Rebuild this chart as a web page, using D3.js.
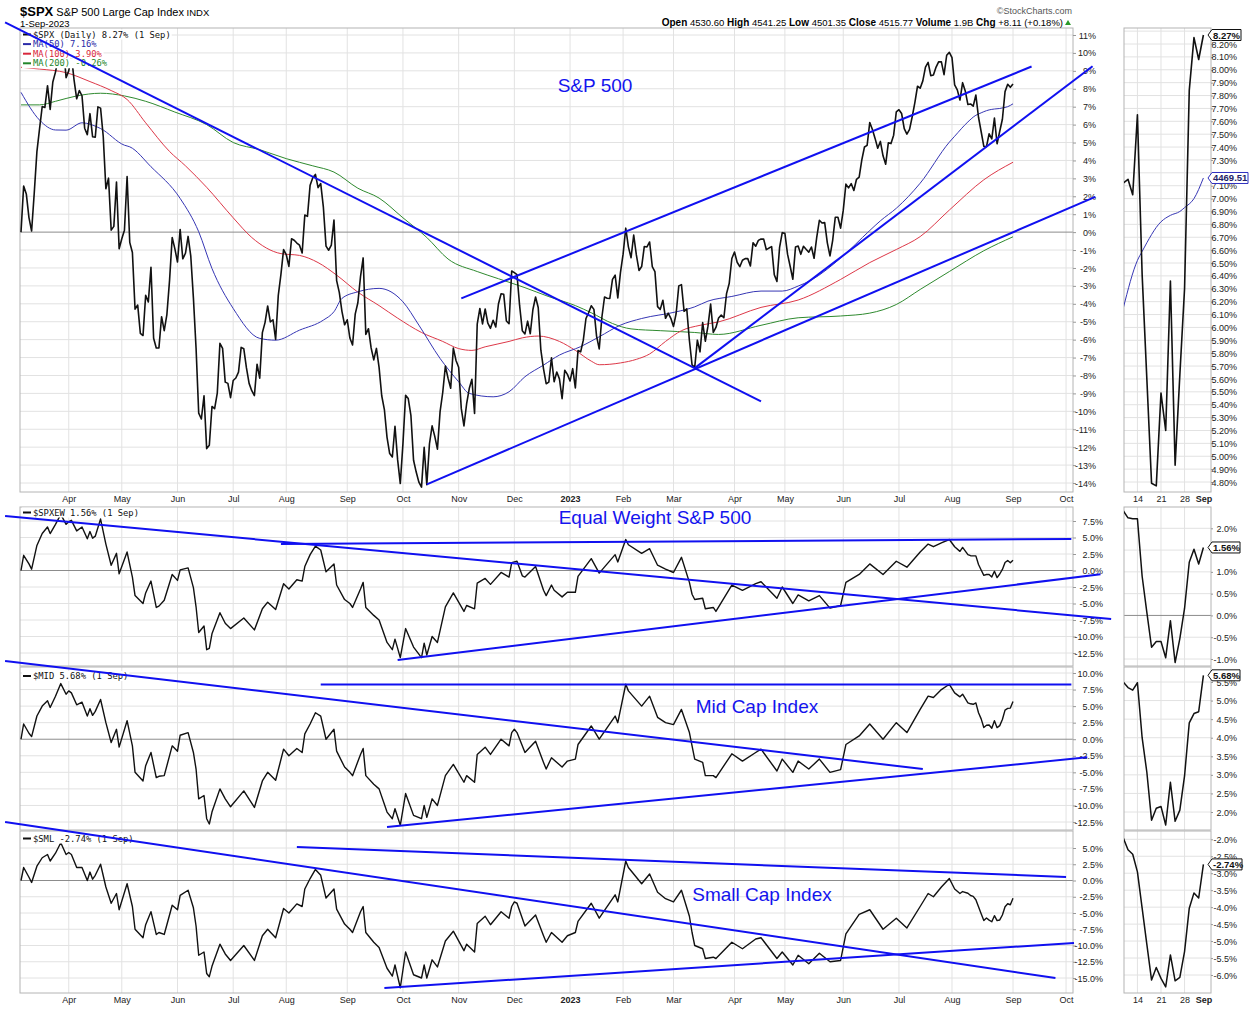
<!DOCTYPE html>
<html>
<head>
<meta charset="utf-8">
<script src="https://cdn.jsdelivr.net/npm/d3@7"></script>
<style>
  body { margin: 0; background: #fff; }
</style>
</head>
<body>
<svg id="chart" width="1251" height="1009" font-family="Liberation Sans, Arial, sans-serif"></svg>
<script>
// ---- data ----
var holidays = ["2022-04-15","2022-05-30","2022-06-20","2022-07-04","2022-09-05","2022-11-24","2022-12-26",
  "2023-01-02","2023-01-16","2023-02-20","2023-04-07","2023-05-29","2023-06-19","2023-07-04","2023-09-04"];

var months = ["2022-04","2022-05","2022-06","2022-07","2022-08","2022-09","2022-10","2022-11","2022-12",
  "2023-01","2023-02","2023-03","2023-04","2023-05","2023-06","2023-07","2023-08","2023-09","2023-10"];
var monthLabels = ["Apr","May","Jun","Jul","Aug","Sep","Oct","Nov","Dec","2023","Feb","Mar","Apr","May","Jun","Jul","Aug","Sep","Oct"];
var miniDays = ["2023-08-14","2023-08-21","2023-08-28","2023-09-01"];
var miniLabels = ["14","21","28","Sep"];

// $SPX % change since 8 Mar 2022, one value per trading day
var spxPct = [
  0.00,2.57,2.13,0.81,0.06,2.20,4.49,5.78,7.01,6.96,8.17,6.85,8.38,8.93,9.71,11.05,10.35,8.62,
  9.00,9.88,8.50,7.44,7.90,7.61,5.80,5.44,6.61,5.32,5.30,6.99,6.92,5.35,2.42,3.01,0.11,0.32,2.80,-0.93,
  -0.37,0.11,3.10,-0.57,-1.14,-4.30,-4.07,-5.65,-5.77,-3.52,-3.90,-1.96,-5.92,-6.47,-6.46,-4.72,-5.50,-4.60,-2.71,-0.30,-0.92,
  -1.67,0.15,-1.49,-1.18,-0.24,-1.32,-3.67,-6.47,-10.10,-10.43,-9.13,-12.08,-11.89,-9.73,-9.85,-8.99,-6.21,-6.49,-8.37,-8.44,-9.24,
  -8.28,-8.14,-7.81,-6.43,-6.51,-7.58,-8.44,-8.85,-9.12,-7.37,-8.15,-5.61,-5.05,-4.12,-5.01,-4.89,-5.99,-3.53,-2.36,-0.97,
  -1.25,-1.91,-0.37,-0.45,-0.61,-0.73,-1.16,0.95,0.88,2.62,3.03,3.22,2.48,2.71,1.39,-0.78,-1.01,-0.72,0.68,-2.71,-3.36,-4.42,-5.17,
  -4.89,-5.91,-6.30,-4.58,-3.94,-2.48,-1.44,-5.71,-5.39,-6.46,-7.13,-6.49,-7.55,-9.13,-9.90,-11.45,-12.36,-12.55,-10.83,-12.71,-14.03,
  -11.80,-9.11,-9.29,-10.22,-12.73,-13.39,-13.95,-14.23,-12.01,-14.09,-11.81,-10.81,-11.40,-12.11,-10.02,-8.95,-7.47,-8.15,-8.71,-6.47,-7.16,
  -7.54,-9.85,-10.81,-9.59,-8.73,-8.21,-10.12,-5.14,-4.26,-5.12,-4.29,-5.08,-5.37,-4.92,-5.29,-4.01,-3.44,-3.47,-4.96,-5.11,-2.17,
  -2.26,-2.37,-4.12,-5.50,-5.68,-4.97,-5.67,-4.32,-3.62,-4.21,-6.59,-7.63,-8.46,-8.37,-7.01,-8.35,-7.81,-8.19,-9.29,-7.71,-7.94,
  -8.31,-7.62,-8.69,-6.61,-6.68,-6.03,-4.82,-4.50,-4.11,-4.31,-5.80,-6.52,-4.75,-3.62,-3.69,-3.70,-2.64,-2.40,-3.67,-2.26,
  -1.23,0.22,-0.82,-1.43,-0.16,-1.27,-2.14,-1.92,-0.80,-0.83,-0.55,-1.92,-2.20,-4.16,-4.31,-3.80,-4.81,-4.52,-4.81,
  -5.26,-4.54,-3.00,-2.93,-4.42,-4.28,-6.05,-7.41,-7.55,-6.03,-6.68,-5.05,-6.09,-5.25,-4.02,-5.60,-5.32,-4.79,-4.63,-4.78,-3.43,-2.87,-1.47,
  -1.11,-1.68,-1.93,-1.57,-1.48,-1.48,-1.89,-0.59,-0.79,-0.46,-0.38,-0.39,-0.98,-0.89,-0.81,-2.38,-2.75,-0.85,-0.03,
  -0.07,-1.23,-1.92,-2.63,-0.83,-0.78,-1.24,-0.79,-0.96,-1.12,-0.83,-1.46,-0.29,0.66,0.51,0.53,-0.60,-1.33,-0.47,0.83,0.83,0.22,
  1.21,2.68,2.47,2.71,2.32,2.95,3.07,4.03,4.75,4.84,6.12,5.73,5.23,4.68,5.06,4.26,3.79,4.98,4.94,5.41,6.71,
  6.83,6.62,5.78,5.47,5.73,6.44,7.23,8.14,8.03,8.44,9.21,9.47,8.73,8.77,9.21,9.51,9.50,8.79,9.87,10.03,
  9.74,8.22,7.94,7.37,8.34,7.88,7.12,7.15,7.03,7.65,6.41,5.60,4.79,4.77,5.49,5.20,6.36,4.93,5.63,6.30,7.84,8.25,8.08,
  8.27
];

var ma50 = [["2022-03-08",7.8],["2022-03-17",6.25],["2022-03-25",5.7],["2022-03-31",5.69],["2022-04-08",6.1],["2022-04-20",5.78],
  ["2022-05-03",4.85],["2022-05-05",4.76],["2022-05-17",3.65],["2022-06-02",1.88],["2022-06-13",0.02],["2022-06-21",-2.03],
  ["2022-07-01",-4.26],["2022-07-18",-5.93],["2022-07-26",-6.03],["2022-08-08",-5.47],["2022-08-19",-4.91],["2022-08-25",-4.44],
  ["2022-08-30",-3.7],["2022-09-08",-3.33],["2022-09-20",-3.14],["2022-10-03",-3.89],["2022-10-11",-5.19],["2022-10-21",-7.05],
  ["2022-11-01",-8.35],["2022-11-07",-9.0],["2022-11-18",-9.19],["2022-11-29",-8.91],["2022-12-07",-8.07],["2022-12-16",-7.42],
  ["2022-12-27",-6.86],["2023-01-09",-6.39],["2023-01-19",-5.84],["2023-01-31",-5.19],["2023-02-10",-4.82],["2023-03-02",-4.45],
  ["2023-03-13",-4.17],["2023-03-20",-3.85],["2023-03-31",-3.59],["2023-04-18",-3.29],["2023-04-28",-3.29],["2023-05-08",-3.01],
  ["2023-05-15",-2.67],["2023-05-31",-1.45],["2023-06-15",0.09],["2023-06-22",0.63],["2023-06-30",1.33],["2023-07-14",2.73],
  ["2023-07-31",5.02],["2023-08-02",5.35],["2023-08-09",6.15],["2023-08-14",6.52],["2023-08-15",6.59],["2023-08-21",6.82],
  ["2023-08-23",6.87],["2023-08-25",6.9],["2023-08-28",6.93],["2023-08-30",7.0],["2023-09-01",7.16]];

var ma100 = [["2022-03-08",9.2],["2022-03-17",9.1],["2022-03-31",8.9],["2022-04-13",8.4],["2022-04-26",7.9],["2022-05-04",7.4],
  ["2022-05-13",6.1],["2022-05-26",4.5],["2022-06-06",3.7],["2022-06-16",2.5],["2022-07-01",0.8],["2022-07-13",-0.3],
  ["2022-07-28",-1.2],["2022-08-08",-1.3],["2022-08-17",-1.7],["2022-08-26",-2.4],["2022-09-08",-3.35],["2022-09-20",-4.1],
  ["2022-09-29",-4.8],["2022-10-12",-5.6],["2022-10-24",-6.1],["2022-11-01",-6.5],["2022-11-08",-6.6],["2022-11-15",-6.4],
  ["2022-11-29",-6.1],["2022-12-06",-5.9],["2022-12-14",-5.8],["2022-12-27",-6.1],["2023-01-05",-6.6],["2023-01-13",-7.2],
  ["2023-01-19",-7.4],["2023-01-31",-7.3],["2023-02-08",-7.1],["2023-02-15",-6.8],["2023-02-24",-6.1],["2023-03-06",-5.5],
  ["2023-03-15",-5.2],["2023-03-24",-5.01],["2023-04-18",-4.2],["2023-05-08",-3.79],["2023-05-31",-2.64],["2023-06-15",-1.7],
  ["2023-06-30",-0.97],["2023-07-14",-0.25],["2023-07-31",1.23],["2023-08-17",2.92],["2023-09-01",3.9]];

var ma200 = [["2022-03-08",7.1],["2022-03-17",7.1],["2022-03-25",7.3],["2022-04-06",7.6],["2022-04-20",7.75],["2022-05-03",7.6],
  ["2022-05-13",7.3],["2022-05-31",6.7],["2022-06-16",6.0],["2022-07-01",5.0],["2022-07-18",4.6],["2022-08-01",4.1],
  ["2022-08-15",3.7],["2022-08-25",3.35],["2022-09-08",2.45],["2022-09-20",1.9],["2022-10-03",0.8],["2022-10-14",-0.3],
  ["2022-10-26",-1.5],["2022-11-10",-2.2],["2022-11-22",-2.6],["2022-12-07",-3.1],["2022-12-20",-3.6],["2023-01-05",-4.1],
  ["2023-01-13",-4.5],["2023-01-26",-5.1],["2023-02-06",-5.4],["2023-02-22",-5.5],["2023-03-13",-5.6],["2023-03-24",-5.71],
  ["2023-04-18",-5.2],["2023-05-08",-4.78],["2023-05-31",-4.68],["2023-06-15",-4.52],["2023-06-30",-4.04],["2023-07-14",-3.2],
  ["2023-07-31",-2.2],["2023-08-17",-1.04],["2023-09-01",-0.26]];

var ewPts = [["2022-03-08",0],["2022-03-09",2.3],["2022-03-11",1.0],["2022-03-14",0.2],["2022-03-16",3.8],["2022-03-18",5.6],
  ["2022-03-22",6.6],["2022-03-23",5.6],["2022-03-25",7.0],["2022-03-29",8.5],["2022-03-31",7.0],["2022-04-01",7.4],
  ["2022-04-04",7.6],["2022-04-06",6.0],["2022-04-08",6.6],["2022-04-12",4.8],["2022-04-13",5.9],["2022-04-14",4.9],
  ["2022-04-18",5.2],["2022-04-20",7.8],["2022-04-22",4.0],["2022-04-26",0.8],["2022-04-28",2.6],["2022-04-29",-0.5],
  ["2022-05-04",2.8],["2022-05-06",-1.0],["2022-05-09",-3.8],["2022-05-12",-5.0],["2022-05-13",-3.4],["2022-05-17",-1.6],
  ["2022-05-19",-5.6],["2022-05-20",-5.4],["2022-05-24",-4.5],["2022-05-27",-0.6],["2022-06-01",-1.5],["2022-06-02",0.1],
  ["2022-06-07",0.4],["2022-06-09",-2.6],["2022-06-10",-5.5],["2022-06-13",-9.4],["2022-06-15",-8.4],["2022-06-16",-12.0],
  ["2022-06-17",-11.8],["2022-06-21",-9.6],["2022-06-24",-6.4],["2022-06-28",-8.0],["2022-06-30",-8.8],["2022-07-08",-7.2],
  ["2022-07-14",-9.0],["2022-07-19",-5.8],["2022-07-21",-4.8],["2022-07-26",-5.9],["2022-07-29",-2.0],["2022-08-02",-2.8],
  ["2022-08-05",-1.4],["2022-08-09",-1.6],["2022-08-10",0.6],["2022-08-12",2.4],["2022-08-16",3.7],["2022-08-18",3.1],
  ["2022-08-22",-0.2],["2022-08-25",1.0],["2022-08-26",-2.2],["2022-08-31",-4.4],["2022-09-02",-5.0],["2022-09-06",-5.6],
  ["2022-09-09",-2.8],["2022-09-12",-1.8],["2022-09-13",-5.6],["2022-09-16",-6.8],["2022-09-20",-7.5],["2022-09-23",-10.9],
  ["2022-09-27",-12.0],["2022-09-28",-10.4],["2022-09-30",-13.2],["2022-10-04",-8.8],["2022-10-07",-11.6],["2022-10-12",-13.2],
  ["2022-10-13",-11.0],["2022-10-14",-12.8],["2022-10-18",-10.0],["2022-10-20",-10.9],["2022-10-25",-5.5],["2022-10-28",-3.4],
  ["2022-11-03",-6.2],["2022-11-04",-5.3],["2022-11-09",-5.8],["2022-11-10",-1.9],["2022-11-15",-1.2],["2022-11-17",-2.1],
  ["2022-11-23",-0.3],["2022-11-29",-1.0],["2022-11-30",1.2],["2022-12-01",1.3],["2022-12-02",1.4],["2022-12-06",-0.8],
  ["2022-12-07",-1.0],["2022-12-13",0.6],["2022-12-16",-3.0],["2022-12-19",-3.8],["2022-12-21",-2.2],["2022-12-22",-3.0],
  ["2022-12-28",-4.0],["2022-12-30",-3.3],["2023-01-05",-3.3],["2023-01-06",-0.9],["2023-01-13",1.8],["2023-01-19",-0.4],
  ["2023-01-27",2.4],["2023-01-30",1.3],["2023-02-02",4.7],["2023-02-03",3.9],["2023-02-10",2.6],["2023-02-15",3.3],
  ["2023-02-21",0.8],["2023-02-24",0.2],["2023-03-01",-0.3],["2023-03-06",2.0],["2023-03-09",-1.8],["2023-03-10",-3.6],
  ["2023-03-13",-4.4],["2023-03-16",-4.2],["2023-03-17",-5.8],["2023-03-22",-5.6],["2023-03-23",-6.2],["2023-03-31",-2.2],
  ["2023-04-06",-3.0],["2023-04-14",-2.0],["2023-04-18",-1.7],["2023-04-26",-4.2],["2023-04-28",-2.5],["2023-05-04",-5.0],
  ["2023-05-08",-3.7],["2023-05-12",-4.6],["2023-05-18",-3.8],["2023-05-24",-5.7],["2023-05-31",-5.3],["2023-06-02",-1.8],
  ["2023-06-09",-0.6],["2023-06-15",1.0],["2023-06-23",-0.6],["2023-06-30",1.4],["2023-07-07",0.5],["2023-07-14",2.8],
  ["2023-07-19",4.0],["2023-07-21",3.6],["2023-07-26",4.2],["2023-07-31",4.7],["2023-08-02",3.6],["2023-08-04",2.9],
  ["2023-08-07",3.5],["2023-08-09",2.4],["2023-08-10",2.24],["2023-08-11",2.22],["2023-08-14",2.22],["2023-08-15",0.9],
  ["2023-08-16",0.07],["2023-08-17",-0.73],["2023-08-18",-0.6],["2023-08-21",-0.6],["2023-08-22",-0.97],["2023-08-23",-0.12],
  ["2023-08-24",-1.08],["2023-08-25",-0.53],["2023-08-28",0.16],["2023-08-29",1.22],["2023-08-30",1.52],["2023-08-31",1.18],
  ["2023-09-01",1.56]];

var midPts = [["2022-03-08",0],["2022-03-09",2.3],["2022-03-11",0.9],["2022-03-14",0.4],["2022-03-16",3.5],["2022-03-18",5.0],
  ["2022-03-22",5.8],["2022-03-23",4.8],["2022-03-25",6.5],["2022-03-29",8.4],["2022-03-31",6.8],["2022-04-01",7.3],
  ["2022-04-04",7.0],["2022-04-06",5.2],["2022-04-08",5.6],["2022-04-12",3.5],["2022-04-13",4.6],["2022-04-14",3.6],
  ["2022-04-18",4.2],["2022-04-20",6.0],["2022-04-22",2.5],["2022-04-26",-0.5],["2022-04-28",1.5],["2022-04-29",-1.2],
  ["2022-05-04",2.8],["2022-05-06",-1.0],["2022-05-09",-5.0],["2022-05-12",-6.3],["2022-05-13",-4.0],["2022-05-17",-2.0],
  ["2022-05-19",-5.8],["2022-05-20",-5.6],["2022-05-24",-5.5],["2022-05-27",-1.0],["2022-06-01",-1.8],["2022-06-02",0.6],
  ["2022-06-07",1.0],["2022-06-09",-2.0],["2022-06-10",-4.5],["2022-06-13",-9.0],["2022-06-15",-8.5],["2022-06-16",-12.0],
  ["2022-06-17",-12.8],["2022-06-21",-11.0],["2022-06-24",-7.5],["2022-06-28",-9.0],["2022-06-30",-10.2],["2022-07-08",-7.8],
  ["2022-07-14",-10.3],["2022-07-19",-6.3],["2022-07-21",-5.0],["2022-07-26",-6.2],["2022-07-29",-1.5],["2022-08-02",-2.5],
  ["2022-08-05",-1.4],["2022-08-09",-2.0],["2022-08-10",0.8],["2022-08-12",2.3],["2022-08-16",4.0],["2022-08-18",3.5],
  ["2022-08-22",0.0],["2022-08-25",1.5],["2022-08-26",-1.8],["2022-08-31",-4.2],["2022-09-02",-5.0],["2022-09-06",-5.5],
  ["2022-09-09",-2.3],["2022-09-12",-1.4],["2022-09-13",-5.5],["2022-09-16",-6.8],["2022-09-20",-7.5],["2022-09-23",-11.0],
  ["2022-09-27",-12.0],["2022-09-28",-10.5],["2022-09-30",-13.0],["2022-10-04",-8.2],["2022-10-07",-11.5],["2022-10-12",-12.0],
  ["2022-10-13",-10.0],["2022-10-14",-11.8],["2022-10-18",-9.0],["2022-10-20",-10.0],["2022-10-25",-5.5],["2022-10-28",-3.8],
  ["2022-11-03",-6.5],["2022-11-04",-5.5],["2022-11-09",-6.5],["2022-11-10",-2.3],["2022-11-15",-1.2],["2022-11-17",-2.3],
  ["2022-11-23",0.0],["2022-11-29",-1.0],["2022-11-30",1.0],["2022-12-01",1.5],["2022-12-02",1.0],["2022-12-07",-2.0],
  ["2022-12-13",-0.3],["2022-12-16",-3.5],["2022-12-19",-4.5],["2022-12-21",-2.8],["2022-12-28",-4.2],["2022-12-30",-3.3],
  ["2023-01-05",-3.0],["2023-01-06",-0.8],["2023-01-13",2.0],["2023-01-19",0.0],["2023-01-27",3.5],["2023-01-30",2.5],
  ["2023-02-02",8.3],["2023-02-03",7.3],["2023-02-10",5.0],["2023-02-15",6.5],["2023-02-21",3.3],["2023-02-24",2.5],
  ["2023-03-01",2.2],["2023-03-06",4.5],["2023-03-09",1.0],["2023-03-10",-1.0],["2023-03-13",-3.0],["2023-03-16",-3.5],
  ["2023-03-17",-5.5],["2023-03-22",-5.5],["2023-03-23",-5.8],["2023-03-31",-2.2],["2023-04-06",-3.3],["2023-04-14",-2.0],
  ["2023-04-18",-1.5],["2023-04-26",-4.8],["2023-04-28",-3.0],["2023-05-04",-5.0],["2023-05-08",-3.3],["2023-05-12",-4.5],
  ["2023-05-18",-3.0],["2023-05-24",-5.0],["2023-05-31",-4.6],["2023-06-02",-0.8],["2023-06-09",0.5],["2023-06-15",2.3],
  ["2023-06-23",0.0],["2023-06-30",2.5],["2023-07-07",1.0],["2023-07-14",4.5],["2023-07-19",6.5],["2023-07-21",6.3],
  ["2023-07-26",7.5],["2023-07-31",8.3],["2023-08-02",7.0],["2023-08-04",6.4],["2023-08-07",6.8],["2023-08-09",5.5],
  ["2023-08-10",5.35],["2023-08-11",5.28],["2023-08-14",5.48],["2023-08-15",4.0],["2023-08-16",3.07],["2023-08-17",1.78],
  ["2023-08-18",2.1],["2023-08-21",2.15],["2023-08-22",1.65],["2023-08-23",2.8],["2023-08-24",1.75],["2023-08-25",2.05],
  ["2023-08-28",2.97],["2023-08-29",4.4],["2023-08-30",4.65],["2023-08-31",4.7],["2023-09-01",5.68]];

var smlPts = [["2022-03-08",0],["2022-03-09",2.0],["2022-03-11",0.5],["2022-03-14",-0.3],["2022-03-16",2.2],["2022-03-18",3.5],
  ["2022-03-22",4.0],["2022-03-23",3.0],["2022-03-25",4.2],["2022-03-29",5.8],["2022-03-31",4.0],["2022-04-01",4.3],
  ["2022-04-04",4.0],["2022-04-06",2.0],["2022-04-08",2.0],["2022-04-12",0.0],["2022-04-13",1.3],["2022-04-14",0.2],
  ["2022-04-18",0.8],["2022-04-20",2.5],["2022-04-22",-1.0],["2022-04-26",-3.5],["2022-04-28",-2.0],["2022-04-29",-4.5],
  ["2022-05-04",-0.5],["2022-05-06",-4.0],["2022-05-09",-7.5],["2022-05-12",-8.8],["2022-05-13",-6.8],["2022-05-17",-4.8],
  ["2022-05-19",-8.3],["2022-05-20",-8.0],["2022-05-24",-8.3],["2022-05-27",-3.8],["2022-06-01",-4.5],["2022-06-02",-2.3],
  ["2022-06-07",-1.5],["2022-06-09",-4.2],["2022-06-10",-7.0],["2022-06-13",-11.5],["2022-06-15",-11.0],["2022-06-16",-14.3],
  ["2022-06-17",-14.8],["2022-06-21",-13.2],["2022-06-24",-9.8],["2022-06-28",-11.3],["2022-06-30",-12.3],["2022-07-08",-10.0],
  ["2022-07-14",-12.3],["2022-07-19",-8.5],["2022-07-21",-7.5],["2022-07-26",-8.8],["2022-07-29",-4.3],["2022-08-02",-5.0],
  ["2022-08-05",-3.6],["2022-08-09",-4.0],["2022-08-10",-1.3],["2022-08-12",0.3],["2022-08-16",1.7],["2022-08-18",0.8],
  ["2022-08-22",-2.7],["2022-08-25",-1.3],["2022-08-26",-4.4],["2022-08-31",-6.7],["2022-09-02",-7.5],["2022-09-06",-8.0],
  ["2022-09-09",-4.8],["2022-09-12",-4.0],["2022-09-13",-8.0],["2022-09-16",-9.5],["2022-09-20",-10.3],["2022-09-23",-13.5],
  ["2022-09-27",-14.7],["2022-09-28",-13.0],["2022-09-30",-16.5],["2022-10-04",-11.0],["2022-10-07",-14.5],["2022-10-12",-15.0],
  ["2022-10-13",-13.0],["2022-10-14",-15.0],["2022-10-18",-12.2],["2022-10-20",-13.3],["2022-10-25",-9.3],["2022-10-28",-7.8],
  ["2022-11-03",-10.8],["2022-11-04",-9.8],["2022-11-09",-11.0],["2022-11-10",-6.6],["2022-11-15",-5.5],["2022-11-17",-6.8],
  ["2022-11-23",-4.8],["2022-11-29",-5.8],["2022-11-30",-4.0],["2022-12-01",-3.3],["2022-12-02",-3.5],["2022-12-07",-7.0],
  ["2022-12-13",-5.3],["2022-12-16",-8.5],["2022-12-19",-9.5],["2022-12-21",-8.0],["2022-12-28",-9.5],["2022-12-30",-8.5],
  ["2023-01-05",-8.0],["2023-01-06",-6.3],["2023-01-13",-3.5],["2023-01-19",-5.8],["2023-01-27",-2.2],["2023-01-30",-3.3],
  ["2023-02-02",3.0],["2023-02-03",2.0],["2023-02-10",-0.5],["2023-02-15",1.0],["2023-02-21",-1.8],["2023-02-24",-2.8],
  ["2023-03-01",-3.3],["2023-03-06",-1.5],["2023-03-09",-5.5],["2023-03-10",-8.0],["2023-03-13",-10.0],["2023-03-16",-10.5],
  ["2023-03-17",-12.0],["2023-03-22",-11.8],["2023-03-23",-12.0],["2023-03-31",-9.5],["2023-04-06",-10.5],["2023-04-14",-9.0],
  ["2023-04-18",-8.8],["2023-04-26",-12.0],["2023-04-28",-11.0],["2023-05-04",-13.0],["2023-05-08",-11.5],["2023-05-12",-12.8],
  ["2023-05-18",-11.2],["2023-05-24",-12.5],["2023-05-31",-12.3],["2023-06-02",-8.2],["2023-06-09",-5.2],["2023-06-15",-4.5],
  ["2023-06-23",-7.5],["2023-06-30",-5.8],["2023-07-07",-7.3],["2023-07-14",-4.0],["2023-07-19",-2.0],["2023-07-21",-2.5],
  ["2023-07-26",-1.0],["2023-07-31",0.3],["2023-08-02",-1.3],["2023-08-04",-2.0],["2023-08-07",-1.7],["2023-08-09",-1.96],
  ["2023-08-10",-2.31],["2023-08-11",-2.44],["2023-08-14",-2.96],["2023-08-15",-4.03],["2023-08-16",-5.1],["2023-08-17",-6.15],
  ["2023-08-18",-5.78],["2023-08-21",-6.1],["2023-08-22",-6.35],["2023-08-23",-5.41],["2023-08-24",-6.17],["2023-08-25",-6.07],
  ["2023-08-28",-5.31],["2023-08-29",-4.03],["2023-08-30",-3.58],["2023-08-31",-3.73],["2023-09-01",-2.74]];

// trend lines: [start date, start %, end date, end %]
var spxTrends = [["2022-02-28",11.7,"2023-04-18",-9.45],["2022-11-02",-3.70,"2023-09-13",9.24],
  ["2022-10-14",-14.08,"2023-10-17",1.97],["2023-03-13",-7.59,"2023-10-16",9.26]];
var ewTrends = [["2022-02-28",8.26,"2023-10-25",-7.35],["2022-07-28",4.02,"2023-10-04",4.77],["2022-09-29",-13.56,"2023-10-19",-0.58]];
var midTrends = [["2022-02-28",11.81,"2023-07-17",-4.5],["2022-08-18",8.25,"2023-10-04",8.25],["2022-09-23",-13.26,"2023-10-12",-2.73]];
var smlTrends = [["2022-02-28",9.0,"2023-09-26",-15.0],["2022-08-05",5.15,"2023-10-02",0.54],["2022-09-22",-16.54,"2023-10-05",-9.6]];

var spxTicks = [-14,-13,-12,-11,-10,-9,-8,-7,-6,-5,-4,-3,-2,-1,0,1,2,3,4,5,6,7,8,9,10,11];
var ewTicks = [-12.5,-10,-7.5,-5,-2.5,0,2.5,5,7.5];
var midTicks = [-12.5,-10,-7.5,-5,-2.5,0,2.5,5,7.5,10];
var smlTicks = [-15,-12.5,-10,-7.5,-5,-2.5,0,2.5,5];
var spxMiniTicks = [4.8,4.9,5.0,5.1,5.2,5.3,5.4,5.5,5.6,5.7,5.8,5.9,6.0,6.1,6.2,6.3,6.4,6.5,6.6,6.7,6.8,6.9,7.0,7.1,7.2,7.3,7.4,7.5,7.6,7.7,7.8,7.9,8.0,8.1,8.2,8.3];
var ewMiniTicks = [-1,-0.5,0,0.5,1,1.5,2];
var midMiniTicks = [2,2.5,3,3.5,4,4.5,5,5.5];
var smlMiniTicks = [-6,-5.5,-5,-4.5,-4,-3.5,-3,-2.5,-2];
// mini tick labels that sit completely under a value tag in the picture
var hiddenMini = [[8.3, 7.2], [1.5], [], []];

// ---- trading calendar ----
var hol = new Set(holidays), cal = [];
var day = new Date(Date.UTC(2022, 1, 28));
while (day <= new Date(Date.UTC(2023, 9, 31))) {
  var wd = day.getUTCDay(), s = day.toISOString().slice(0, 10);
  if (wd > 0 && wd < 6 && !hol.has(s)) cal.push(s);
  day.setUTCDate(day.getUTCDate() + 1);
}
var base = cal.indexOf("2022-03-08");
function tIdx(s) { return d3.bisectLeft(cal, s) - base; }

// ---- layout ----
var svg = d3.select("#chart");
var L = 20, R = 1073, ML = 1124, MR = 1211;
var x = d3.scaleLinear().domain([0, 374]).range([21, 1013]);
var xm = d3.scaleLinear().domain([358, 374]).range([1128, 1203.4]);
var monthIdx = months.map(tIdx);
var miniIdx = miniDays.map(tIdx);
var font = "Liberation Sans, Arial, sans-serif";
var mono = "DejaVu Sans Mono, monospace";
var trendColor = "#1010f0";

var panels = [
  {id: "p0", top: 28, bottom: 492, y: d3.scaleLinear().domain([-14, 11]).range([483, 35]), ticks: spxTicks,
   fmt: d => d + "%", labX: 1096, ym: d3.scaleLinear().domain([4.8, 8.27]).range([482, 35]), mticks: spxMiniTicks,
   mfmt: d => d.toFixed(2) + "%", trends: spxTrends},
  {id: "p1", top: 507, bottom: 666, y: d3.scaleLinear().domain([-12.5, 7.5]).range([653, 521]), ticks: ewTicks,
   fmt: d => d.toFixed(1) + "%", labX: 1103, ym: d3.scaleLinear().domain([-1, 2]).range([659, 528.3]), mticks: ewMiniTicks,
   mfmt: d => d.toFixed(1) + "%", trends: ewTrends, pts: ewPts},
  {id: "p2", top: 667, bottom: 830, y: d3.scaleLinear().domain([-12.5, 10]).range([822, 673]), ticks: midTicks,
   fmt: d => d.toFixed(1) + "%", labX: 1103, ym: d3.scaleLinear().domain([2, 5.5]).range([812, 682]), mticks: midMiniTicks,
   mfmt: d => d.toFixed(1) + "%", trends: midTrends, pts: midPts},
  {id: "p3", top: 831, bottom: 993, y: d3.scaleLinear().domain([-15, 5]).range([978, 848]), ticks: smlTicks,
   fmt: d => d.toFixed(1) + "%", labX: 1103, ym: d3.scaleLinear().domain([-6, -2]).range([975, 839.3]), mticks: smlMiniTicks,
   mfmt: d => d.toFixed(1) + "%", trends: smlTrends, pts: smlPts}
];

var defs = svg.append("defs");

panels.forEach(function(p, pi) {
  defs.append("clipPath").attr("id", "c" + p.id).append("rect")
    .attr("x", L).attr("y", p.top).attr("width", R - L).attr("height", p.bottom - p.top);
  defs.append("clipPath").attr("id", "m" + p.id).append("rect")
    .attr("x", ML).attr("y", p.top).attr("width", MR - ML).attr("height", p.bottom - p.top);

  var g = svg.append("g");
  // main grid
  g.selectAll(null).data(monthIdx.filter(d => x(d) < R)).join("line")
    .attr("x1", d => x(d)).attr("x2", d => x(d)).attr("y1", p.top).attr("y2", p.bottom)
    .attr("stroke", "#e2e2e2");
  g.selectAll(null).data(p.ticks).join("line")
    .attr("x1", L).attr("x2", R).attr("y1", d => p.y(d)).attr("y2", d => p.y(d))
    .attr("stroke", d => d === 0 ? "#8c8c8c" : "#e2e2e2");
  g.append("rect").attr("x", L).attr("y", p.top).attr("width", R - L).attr("height", p.bottom - p.top)
    .attr("fill", "none").attr("stroke", "#b4b4b4");

  // mini grid
  g.selectAll(null).data(miniIdx.slice(0, 3)).join("line")
    .attr("x1", d => xm(d)).attr("x2", d => xm(d)).attr("y1", p.top).attr("y2", p.bottom)
    .attr("stroke", "#e2e2e2");
  g.selectAll(null).data(p.mticks).join("line")
    .attr("x1", ML).attr("x2", MR).attr("y1", d => p.ym(d)).attr("y2", d => p.ym(d))
    .attr("stroke", d => d === 0 ? "#8c8c8c" : "#e2e2e2");
  g.append("rect").attr("x", ML).attr("y", p.top).attr("width", MR - ML).attr("height", p.bottom - p.top)
    .attr("fill", "none").attr("stroke", "#b4b4b4");

  // right axes
  var ax = svg.append("g").attr("transform", "translate(" + R + ",0)")
    .call(d3.axisRight(p.y).tickValues(p.ticks).tickFormat(p.fmt).tickSize(3));
  ax.select(".domain").remove();
  ax.selectAll("line").attr("stroke", "#999");
  ax.selectAll("text").attr("text-anchor", "end").attr("x", p.labX - R).attr("dy", "0.34em")
    .attr("font-family", font).attr("font-size", 9).attr("fill", "#222");

  var hide = hiddenMini[pi];
  var axm = svg.append("g").attr("transform", "translate(" + MR + ",0)")
    .call(d3.axisRight(p.ym).tickValues(p.mticks)
      .tickFormat(d => hide.indexOf(d) >= 0 ? "" : p.mfmt(d)).tickSize(2));
  axm.select(".domain").remove();
  axm.selectAll("line").attr("stroke", "#999");
  axm.selectAll("text").attr("text-anchor", "end").attr("x", 1237 - MR).attr("dy", "0.34em")
    .attr("font-family", font).attr("font-size", 9).attr("fill", "#222");
});

// x axes (under main panel and at bottom)
[492, 993].forEach(function(ay) {
  var ax = svg.append("g").attr("transform", "translate(0," + ay + ")")
    .call(d3.axisBottom(x).tickValues(monthIdx).tickFormat((d, i) => monthLabels[i]).tickSize(0).tickPadding(4));
  ax.select(".domain").remove();
  ax.selectAll("text").attr("font-family", font).attr("font-size", 9).attr("fill", "#222")
    .attr("font-weight", (d, i) => monthLabels[i] === "2023" ? "bold" : "normal");
  var axm = svg.append("g").attr("transform", "translate(0," + ay + ")")
    .call(d3.axisBottom(xm).tickValues(miniIdx).tickFormat((d, i) => miniLabels[i]).tickSize(0).tickPadding(4));
  axm.select(".domain").remove();
  axm.selectAll("text").attr("font-family", font).attr("font-size", 9).attr("fill", "#222")
    .attr("font-weight", (d, i) => miniLabels[i] === "Sep" ? "bold" : "normal");
});

// ---- series ----
function pairs(list) { return list.map(d => [tIdx(d[0]), d[1]]); }
var spxData = spxPct.map((v, i) => [i, v]);

function drawLine(data, xs, ys, clip, color, width, curve) {
  svg.append("path").datum(data)
    .attr("clip-path", "url(#" + clip + ")")
    .attr("fill", "none").attr("stroke", color).attr("stroke-width", width)
    .attr("stroke-linejoin", "round")
    .attr("d", d3.line().x(d => xs(d[0])).y(d => ys(d[1])).curve(curve || d3.curveLinear));
}

var p0 = panels[0];
var maSets = [[ma200, "#2f8a2f"], [ma100, "#dd3848"], [ma50, "#3636b4"]];
maSets.forEach(function(m) {
  drawLine(pairs(m[0]), x, p0.y, "cp0", m[1], 1, d3.curveMonotoneX);
});
drawLine(spxData, x, p0.y, "cp0", "#111", 1.6);
drawLine(pairs(ma50).filter(d => d[0] >= 356), xm, p0.ym, "mp0", "#3636b4", 1, d3.curveMonotoneX);
drawLine(spxData.filter(d => d[0] >= 356), xm, p0.ym, "mp0", "#111", 1.6);

panels.slice(1).forEach(function(p) {
  var data = pairs(p.pts);
  drawLine(data, x, p.y, "c" + p.id, "#111", 1.4);
  drawLine(data.filter(d => d[0] >= 356), xm, p.ym, "m" + p.id, "#111", 1.5);
});

// ---- legends ----
function legend(items, y0) {
  items.forEach(function(it, i) {
    var yy = y0 + i * 9.6;
    var t = svg.append("text").attr("x", 33).attr("y", yy).text(it[0])
      .attr("font-family", mono).attr("font-size", 8.8).attr("fill", it[1]);
    var bb = t.node().getBBox();
    svg.insert("rect", function() { return t.node(); })
      .attr("x", 22).attr("y", bb.y).attr("width", bb.x + bb.width - 22 + 1).attr("height", bb.height)
      .attr("fill", "#fff");
    svg.append("line").attr("x1", 23).attr("x2", 31).attr("y1", yy - 3).attr("y2", yy - 3)
      .attr("stroke", it[1]).attr("stroke-width", 2);
  });
}
legend([["$SPX (Daily) 8.27% (1 Sep)", "#111"], ["MA(50) 7.16%", "#2a2aa8"], ["MA(100) 3.90%", "#d8283c"], ["MA(200) -0.26%", "#23862a"]], 37.5);
legend([["$SPXEW 1.56% (1 Sep)", "#111"]], 515.5);
legend([["$MID 5.68% (1 Sep)", "#111"]], 679);
legend([["$SML -2.74% (1 Sep)", "#111"]], 841.5);

// ---- trend lines ----
panels.forEach(function(p) {
  svg.append("g").selectAll("line").data(p.trends).join("line")
    .attr("x1", d => x(tIdx(d[0]))).attr("y1", d => p.y(d[1]))
    .attr("x2", d => x(tIdx(d[2]))).attr("y2", d => p.y(d[3]))
    .attr("stroke", trendColor).attr("stroke-width", 2);
});

// ---- annotations ----
var notes = [["S&P 500", 595, 92], ["Equal Weight S&P 500", 655, 524], ["Mid Cap Index", 757, 713], ["Small Cap Index", 762, 901]];
svg.selectAll(".note").data(notes).join("text").attr("class", "note")
  .attr("x", d => d[1]).attr("y", d => d[2]).attr("text-anchor", "middle")
  .attr("font-family", font).attr("font-size", 19).attr("fill", "#1414ee").text(d => d[0]);

// ---- value tags on mini panels ----
function tag(yc, text, color, w) {
  var x0 = 1208;
  svg.append("path")
    .attr("d", "M" + x0 + "," + yc + "L" + (x0 + 4) + "," + (yc - 5.5) + "L" + (x0 + w) + "," + (yc - 5.5) +
      "L" + (x0 + w) + "," + (yc + 5.5) + "L" + (x0 + 4) + "," + (yc + 5.5) + "Z")
    .attr("fill", "#fff").attr("stroke", color).attr("stroke-width", 1);
  svg.append("text").attr("x", x0 + 5).attr("y", yc + 3.5).text(text)
    .attr("font-family", font).attr("font-size", 9.5).attr("font-weight", "bold").attr("fill", color === "#111" ? "#111" : "#222266");
}
tag(p0.ym(8.27), "8.27%", "#111", 33);
tag(p0.ym(7.16), "4469.51", "#3030c0", 40);
tag(panels[1].ym(1.56), "1.56%", "#111", 32);
tag(panels[2].ym(5.68), "5.68%", "#111", 32);
tag(panels[3].ym(-2.74), "-2.74%", "#111", 34);

// ---- header ----
var h = svg.append("text").attr("x", 20).attr("y", 15.5).attr("font-family", font);
h.append("tspan").text("$SPX").attr("font-weight", "bold").attr("font-size", 13);
h.append("tspan").text(" S&P 500 Large Cap Index").attr("font-size", 11);
h.append("tspan").text("  INDX").attr("font-size", 9.5);
svg.append("text").attr("x", 20).attr("y", 26.5).text("1-Sep-2023").attr("font-family", font).attr("font-size", 9.5);
svg.append("text").attr("x", 1072).attr("y", 14).attr("text-anchor", "end").text("\u00a9StockCharts.com")
  .attr("font-family", font).attr("font-size", 9).attr("fill", "#555");

var quote = [["Open", "4530.60"], ["High", "4541.25"], ["Low", "4501.35"], ["Close", "4515.77"], ["Volume", "1.9B"], ["Chg", "+8.11 (+0.18%)"]];
var q = svg.append("text").attr("x", 1063).attr("y", 26).attr("text-anchor", "end").attr("font-family", font);
quote.forEach(function(d, i) {
  q.append("tspan").text((i ? "  " : "") + d[0]).attr("font-weight", "bold").attr("font-size", 10);
  q.append("tspan").text(" " + d[1]).attr("font-size", 9.5);
});
svg.append("path").attr("d", "M1065,25L1071,25L1068,20Z").attr("fill", "#2a9a2a");
</script>
</body>
</html>
